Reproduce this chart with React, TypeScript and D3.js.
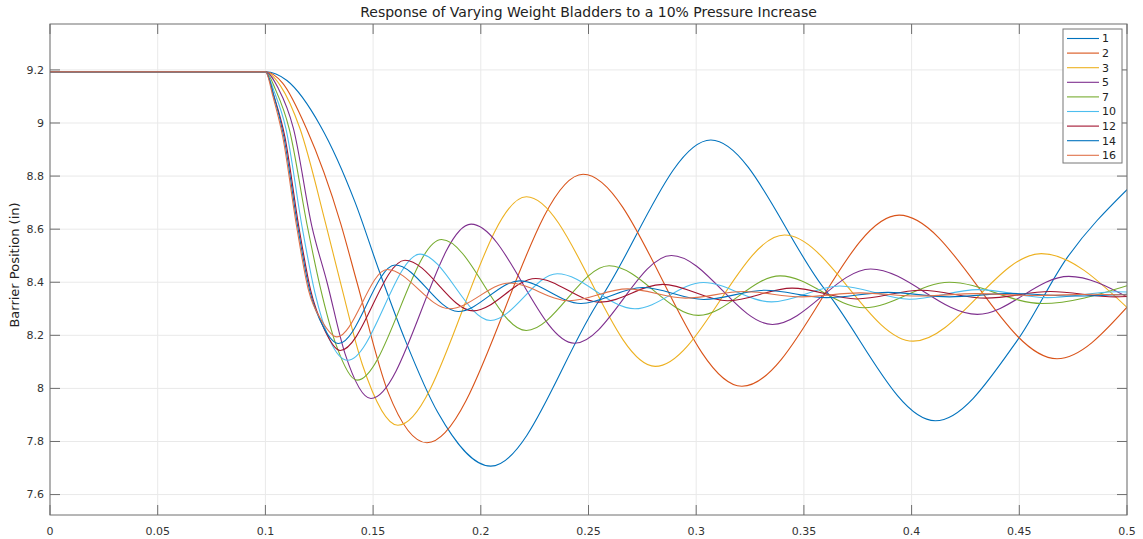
import React from "react";
import * as d3 from "d3";

type Pt = [number, number];

const seriesNames = ["1", "2", "3", "5", "7", "10", "12", "14", "16"];
const seriesColors = ["#0072BD", "#D95319", "#EDB120", "#7E2F8E", "#77AC30", "#4DBEEE", "#A2142F", "#0072BD", "#E0724A"];

const s1: Pt[] = [[0, 9.193], [0.1, 9.193], [0.11, 9.16], [0.1255, 8.99], [0.1417, 8.70], [0.1525, 8.45], [0.165, 8.18], [0.18, 7.91], [0.2046, 7.707], [0.2553, 8.335], [0.3068, 8.936], [0.36, 8.37], [0.411, 7.878], [0.449, 8.18], [0.472, 8.49], [0.5, 8.749]];
const s2: Pt[] = [[0, 9.193], [0.1, 9.193], [0.108, 9.15], [0.119, 8.98], [0.135, 8.62], [0.1425, 8.40], [0.157, 7.985], [0.175, 7.795], [0.2475, 8.807], [0.3212, 8.008], [0.3942, 8.653], [0.4675, 8.112], [0.5, 8.306]];
const s3: Pt[] = [[0, 9.193], [0.1, 9.193], [0.107, 9.14], [0.116, 8.98], [0.128, 8.62], [0.1348, 8.40], [0.145, 8.09], [0.1615, 7.861], [0.2212, 8.722], [0.281, 8.083], [0.341, 8.578], [0.4007, 8.178], [0.4602, 8.508], [0.5, 8.305]];
const s5: Pt[] = [[0, 9.193], [0.1, 9.193], [0.106, 9.13], [0.113, 8.98], [0.1216, 8.61], [0.1286, 8.40], [0.137, 8.13], [0.149, 7.962], [0.1955, 8.619], [0.2435, 8.17], [0.2885, 8.501], [0.3354, 8.241], [0.381, 8.45], [0.4305, 8.279], [0.473, 8.422], [0.5, 8.345]];
const s7: Pt[] = [[0, 9.193], [0.1, 9.193], [0.105, 9.12], [0.111, 8.98], [0.1195, 8.61], [0.1255, 8.38], [0.133, 8.16], [0.1425, 8.031], [0.1818, 8.561], [0.2211, 8.218], [0.2596, 8.462], [0.3011, 8.275], [0.339, 8.424], [0.378, 8.304], [0.4175, 8.40], [0.4605, 8.32], [0.5, 8.387]];
const s10: Pt[] = [[0, 9.193], [0.1, 9.193], [0.104, 9.12], [0.1095, 8.98], [0.117, 8.61], [0.123, 8.36], [0.13, 8.18], [0.1382, 8.106], [0.1718, 8.506], [0.2045, 8.256], [0.2355, 8.432], [0.2715, 8.30], [0.3034, 8.399], [0.335, 8.326], [0.3667, 8.386], [0.399, 8.336], [0.431, 8.372], [0.463, 8.342], [0.495, 8.364], [0.5, 8.363]];
const s12: Pt[] = [[0, 9.193], [0.1, 9.193], [0.104, 9.10], [0.109, 8.95], [0.1155, 8.61], [0.121, 8.37], [0.1275, 8.22], [0.1347, 8.143], [0.1648, 8.483], [0.1965, 8.292], [0.2255, 8.414], [0.2555, 8.325], [0.2845, 8.392], [0.3145, 8.33], [0.3445, 8.378], [0.3745, 8.337], [0.4045, 8.37], [0.4345, 8.34], [0.4645, 8.365], [0.4945, 8.345], [0.5, 8.346]];
const s14: Pt[] = [[0, 9.193], [0.1, 9.193], [0.104, 9.10], [0.1085, 8.95], [0.115, 8.61], [0.1205, 8.37], [0.127, 8.23], [0.134, 8.169], [0.1602, 8.465], [0.1895, 8.29], [0.218, 8.405], [0.2465, 8.32], [0.275, 8.38], [0.3035, 8.335], [0.332, 8.37], [0.3605, 8.342], [0.389, 8.362], [0.4175, 8.345], [0.446, 8.358], [0.4745, 8.348], [0.5, 8.355]];
const s16: Pt[] = [[0, 9.193], [0.1, 9.193], [0.1035, 9.10], [0.108, 8.95], [0.1145, 8.61], [0.12, 8.37], [0.1265, 8.25], [0.1332, 8.194], [0.1565, 8.448], [0.1855, 8.30], [0.2134, 8.397], [0.241, 8.33], [0.268, 8.375], [0.295, 8.34], [0.322, 8.365], [0.349, 8.345], [0.376, 8.36], [0.403, 8.348], [0.43, 8.357], [0.457, 8.35], [0.484, 8.355], [0.5, 8.352]];

const seriesData: Pt[][] = [s1, s2, s3, s5, s7, s10, s12, s14, s16];

const xTicks = [0, 0.05, 0.1, 0.15, 0.2, 0.25, 0.3, 0.35, 0.4, 0.45, 0.5];
const xTickLabels = ["0", "0.05", "0.1", "0.15", "0.2", "0.25", "0.3", "0.35", "0.4", "0.45", "0.5"];
const yTicks = [7.6, 7.8, 8, 8.2, 8.4, 8.6, 8.8, 9, 9.2];
const yTickLabels = ["7.6", "7.8", "8", "8.2", "8.4", "8.6", "8.8", "9", "9.2"];

const titleText = "Response of Varying Weight Bladders to a 10% Pressure Increase";
const yLabelText = "Barrier Position (in)";

export default function App() {
  const W = 1143, H = 539;
  const L = 50, R = 1127, T = 24, B = 515;
  const x = d3.scaleLinear().domain([0, 0.5]).range([L, R]);
  const y = d3.scaleLinear().domain([7.523, 9.373]).range([B, T]);
  const line = d3.line<Pt>().x(d => x(d[0])).y(d => y(d[1])).curve(d3.curveMonotoneX);
  const font = "'DejaVu Sans', sans-serif";
  const axisColor = "#6e6e6e";
  const gridColor = "#e9e9e9";
  const tickLen = 10;

  const legX = 1063, legY = 29, legW = 59, legH = 134;
  const rowH = 14.6;

  return (
    <svg width={W} height={H} style={{ position: "absolute", left: 0, top: 0, background: "#fff" }} fontFamily={font}>
      <defs>
        <clipPath id="plotclip">
          <rect x={L} y={T} width={R - L} height={B - T} />
        </clipPath>
      </defs>
      <rect x={0} y={0} width={W} height={H} fill="#fff" />
      {xTicks.map((t, i) => (
        <line key={"gx" + i} x1={x(t)} x2={x(t)} y1={T} y2={B} stroke={gridColor} strokeWidth={1} />
      ))}
      {yTicks.map((t, i) => (
        <line key={"gy" + i} x1={L} x2={R} y1={y(t)} y2={y(t)} stroke={gridColor} strokeWidth={1} />
      ))}
      <g clipPath="url(#plotclip)">
        {seriesData.map((d, i) => (
          <path key={"s" + i} d={line(d) || ""} fill="none" stroke={seriesColors[i]} strokeWidth={1.1} />
        ))}
      </g>
      <rect x={L} y={T} width={R - L} height={B - T} fill="none" stroke={axisColor} strokeWidth={1} />
      {xTicks.map((t, i) => (
        <g key={"tx" + i}>
          <line x1={x(t)} x2={x(t)} y1={B} y2={B - tickLen} stroke={axisColor} />
          <line x1={x(t)} x2={x(t)} y1={T} y2={T + tickLen} stroke={axisColor} />
          <text x={x(t)} y={B + 20} textAnchor="middle" fontSize={11} fill="#333">{xTickLabels[i]}</text>
        </g>
      ))}
      {yTicks.map((t, i) => (
        <g key={"ty" + i}>
          <line x1={L} x2={L + tickLen} y1={y(t)} y2={y(t)} stroke={axisColor} />
          <line x1={R} x2={R - tickLen} y1={y(t)} y2={y(t)} stroke={axisColor} />
          <text x={L - 6} y={y(t)} dy="0.35em" textAnchor="end" fontSize={11} fill="#333">{yTickLabels[i]}</text>
        </g>
      ))}
      <text x={(L + R) / 2} y={17} textAnchor="middle" fontSize={14} fill="#222">{titleText}</text>
      <text transform={`translate(19, ${265}) rotate(-90)`} textAnchor="middle" fontSize={13} fill="#222">{yLabelText}</text>
      <rect x={legX} y={legY} width={legW} height={legH} fill="#fff" stroke="#777" strokeWidth={1} />
      {seriesNames.map((n, i) => {
        const cy = legY + 9.5 + i * rowH;
        return (
          <g key={"lg" + i}>
            <line x1={legX + 4} x2={legX + 36} y1={cy} y2={cy} stroke={seriesColors[i]} strokeWidth={1.1} />
            <text x={legX + 39} y={cy} dy="0.35em" fontSize={11} fill="#222">{n}</text>
          </g>
        );
      })}
    </svg>
  );
}
